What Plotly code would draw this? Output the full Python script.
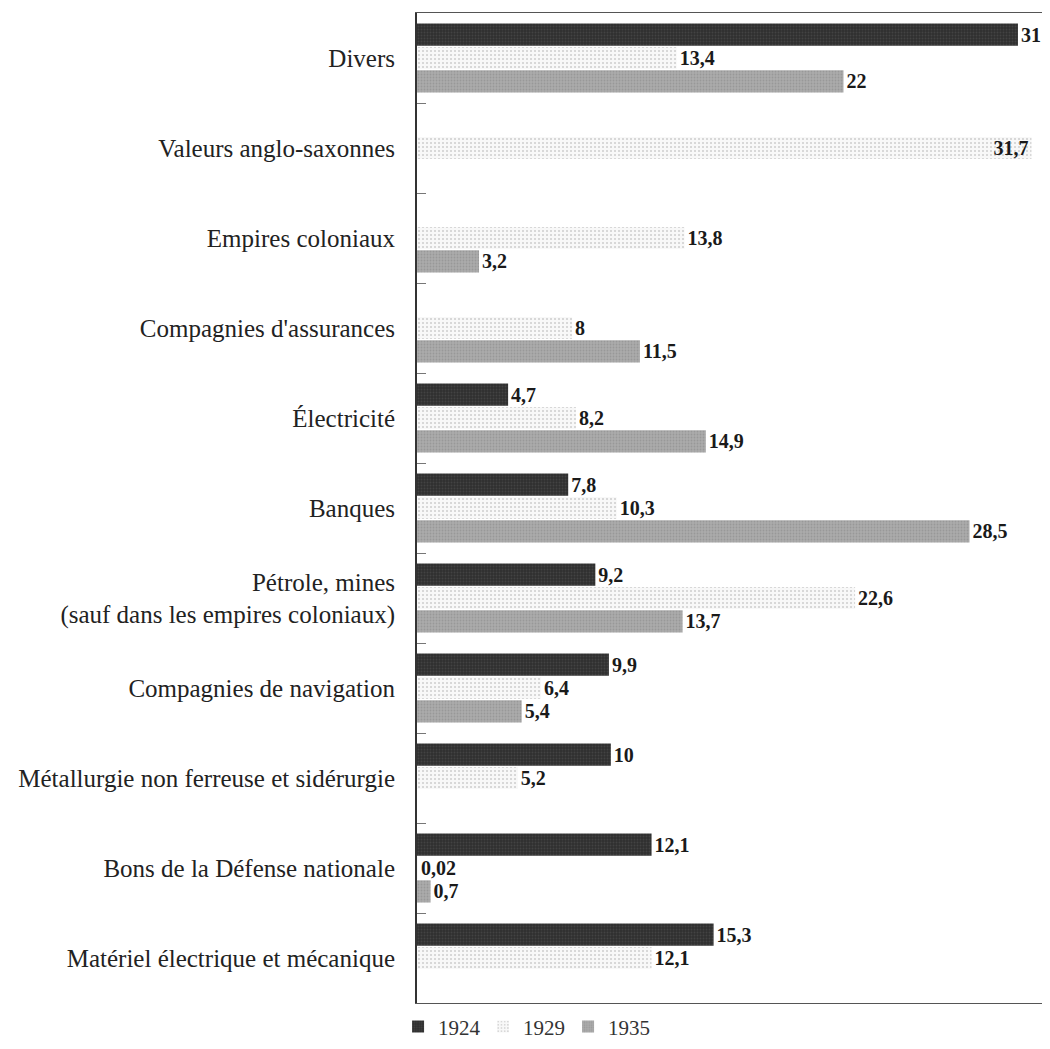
import plotly.graph_objects as go

# Categories from top to bottom
categories = [
    "Divers",
    "Valeurs anglo-saxonnes",
    "Empires coloniaux",
    "Compagnies d'assurances",
    "Électricité",
    "Banques",
    "Pétrole, mines<br>(sauf dans les empires coloniaux)",
    "Compagnies de navigation",
    "Métallurgie non ferreuse et sidérurgie",
    "Bons de la Défense nationale",
    "Matériel électrique et mécanique",
]

years = ["1924", "1929", "1935"]

values_1924 = [31, None, None, None, 4.7, 7.8, 9.2, 9.9, 10, 12.1, 15.3]
values_1929 = [13.4, 31.7, 13.8, 8, 8.2, 10.3, 22.6, 6.4, 5.2, 0.02, 12.1]
values_1935 = [22, None, 3.2, 11.5, 14.9, 28.5, 13.7, 5.4, None, 0.7, None]

series = [values_1924, values_1929, values_1935]


def fmt(v):
    # French decimal comma
    if v is None:
        return ""
    return str(v).replace(".", ",")


# marker styles: dark solid, light stipple, medium grey
styles = [
    dict(color="#363636", pattern=dict(shape=".", fgcolor="#555555", bgcolor="#303030", size=3, solidity=0.3)),
    dict(color="#eeeeee", pattern=dict(shape=".", fgcolor="#a8a8a8", bgcolor="#f8f8f8", size=4, solidity=0.22)),
    dict(color="#9e9e9e", pattern=dict(shape=".", fgcolor="#858585", bgcolor="#ababab", size=3, solidity=0.3)),
]

label_font = dict(family="Liberation Serif", size=20, color="#1a1a1a", weight="bold")

fig = go.Figure()

for name, vals, st in zip(years, series, styles):
    # label that would spill past the right edge goes inside the bar end
    positions = ["inside" if (v is not None and v > 31.5) else "outside" for v in vals]
    fig.add_trace(go.Bar(
        y=categories,
        x=vals,
        name=name,
        orientation="h",
        marker=dict(color=st["color"], pattern=st["pattern"], line=dict(width=0)),
        text=[fmt(v) for v in vals],
        textposition=positions,
        insidetextanchor="end",
        textangle=0,
        textfont=label_font,
        insidetextfont=label_font,
        outsidetextfont=label_font,
        constraintext="none",
        cliponaxis=False,
        hoverinfo="skip",
    ))

# the page body has an 8px margin, so the figure is offset by 8px
fig.update_layout(
    width=1040,
    height=1033,
    barmode="group",
    bargap=0.22,
    bargroupgap=0.05,
    plot_bgcolor="white",
    paper_bgcolor="white",
    margin=dict(l=409, r=0, t=5, b=38, autoexpand=False),
    font=dict(family="Liberation Serif", color="#222222"),
    showlegend=True,
    legend=dict(
        orientation="h",
        x=-0.03,
        xanchor="left",
        y=-0.024,
        yanchor="middle",
        font=dict(family="Liberation Serif", size=21, color="#333333"),
        itemwidth=30,
        entrywidth=40,
        entrywidthmode="pixels",
        bgcolor="rgba(0,0,0,0)",
    ),
    xaxis=dict(
        range=[0, 32.55],
        showticklabels=False,
        ticks="",
        showgrid=False,
        zeroline=False,
        showline=True,
        linecolor="#555555",
        linewidth=1,
        mirror=True,
    ),
    yaxis=dict(
        autorange="reversed",
        showgrid=False,
        showline=True,
        linecolor="#333333",
        linewidth=2,
        ticks="inside",
        tickson="boundaries",
        ticklen=9,
        tickcolor="#777777",
        tickwidth=1,
        ticklabelstandoff=15,
        tickfont=dict(family="Liberation Serif", size=25, color="#222222"),
    ),
)

fig.write_html("out.html")
